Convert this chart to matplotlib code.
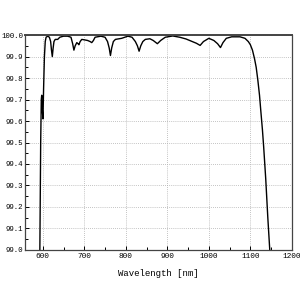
import matplotlib
matplotlib.use("Agg")
import matplotlib.pyplot as plt
from matplotlib.ticker import MultipleLocator, FormatStrFormatter

wavelength = [590, 593, 595, 596.5, 597.5, 599, 600.5, 602, 604, 606, 608, 612, 616, 619, 621, 623,
              625, 627, 630, 636, 641, 650, 660, 668, 672, 675, 678, 682, 685, 687, 690, 694,
              700, 708, 714, 718, 722, 726, 740, 750, 756, 760, 763, 766, 770, 775, 790, 805,
              815, 823, 828, 832, 836, 841, 847, 858, 866, 876, 884, 895, 913, 930, 945, 960,
              970, 979, 987, 1000, 1012, 1021, 1028, 1034, 1042, 1055, 1075, 1087, 1095, 1100,
              1105, 1110, 1114, 1118, 1122, 1125, 1129, 1132, 1137, 1142, 1147, 1149]
transmittance = [98.9, 99.0, 99.5, 99.70, 99.72, 99.65, 99.61, 99.75, 99.90, 99.97, 99.99, 99.995, 99.99, 99.97, 99.93, 99.90,
                 99.94, 99.97, 99.98, 99.98, 99.99, 99.995, 99.995, 99.99, 99.96, 99.93, 99.95, 99.965, 99.96, 99.955, 99.97, 99.98,
                 99.978, 99.975, 99.97, 99.965, 99.975, 99.99, 99.995, 99.99, 99.97, 99.94, 99.905, 99.94, 99.97, 99.98, 99.985, 99.995,
                 99.99, 99.97, 99.95, 99.925, 99.95, 99.97, 99.98, 99.983, 99.975, 99.96, 99.975, 99.99, 99.996, 99.99, 99.982, 99.97,
                 99.962, 99.952, 99.97, 99.985, 99.975, 99.96, 99.942, 99.965, 99.985, 99.992, 99.992, 99.985, 99.97, 99.955,
                 99.93, 99.89, 99.85, 99.79, 99.72, 99.65, 99.56, 99.48, 99.33, 99.15, 98.99, 98.9]

x_ticks = [600, 700, 800, 900, 1000, 1100, 1200]
xlabel = "Wavelength [nm]"

fig = plt.figure(figsize=(3, 3), dpi=100)
ax = fig.add_axes([0.083, 0.167, 0.89, 0.716])
ax.plot(wavelength, transmittance, color="black", lw=1.0)
ax.set_xlim(557, 1200)
ax.set_ylim(99.0, 100.0)
ax.set_xticks(x_ticks)
ax.xaxis.set_minor_locator(MultipleLocator(50))
ax.yaxis.set_major_locator(MultipleLocator(0.1))
ax.yaxis.set_minor_locator(MultipleLocator(0.05))
ax.yaxis.set_major_formatter(FormatStrFormatter("%.1f"))
ax.grid(True, which="major", color="#b0b0b0", linestyle=(0, (1, 1.5)), lw=0.6)
ax.tick_params(which="both", direction="in", color="black", width=0.7)
ax.tick_params(which="major", length=3)
ax.tick_params(axis="x", which="major", pad=2.5)
ax.tick_params(axis="y", which="major", pad=1.2)
ax.tick_params(which="minor", length=2)
for lab in ax.get_xticklabels():
    lab.set_fontfamily("Liberation Mono")
    lab.set_fontsize(5.6)
for lab in ax.get_yticklabels():
    lab.set_fontfamily("Liberation Mono")
    lab.set_fontsize(5.35)
for s in ax.spines.values():
    s.set_color("#444444")
    s.set_linewidth(0.9)
ax.spines["top"].set_linewidth(1.4)
ax.set_xlabel(xlabel, fontfamily="Liberation Mono", fontsize=6.5, labelpad=6)
fig.savefig("out.png", dpi=100)
